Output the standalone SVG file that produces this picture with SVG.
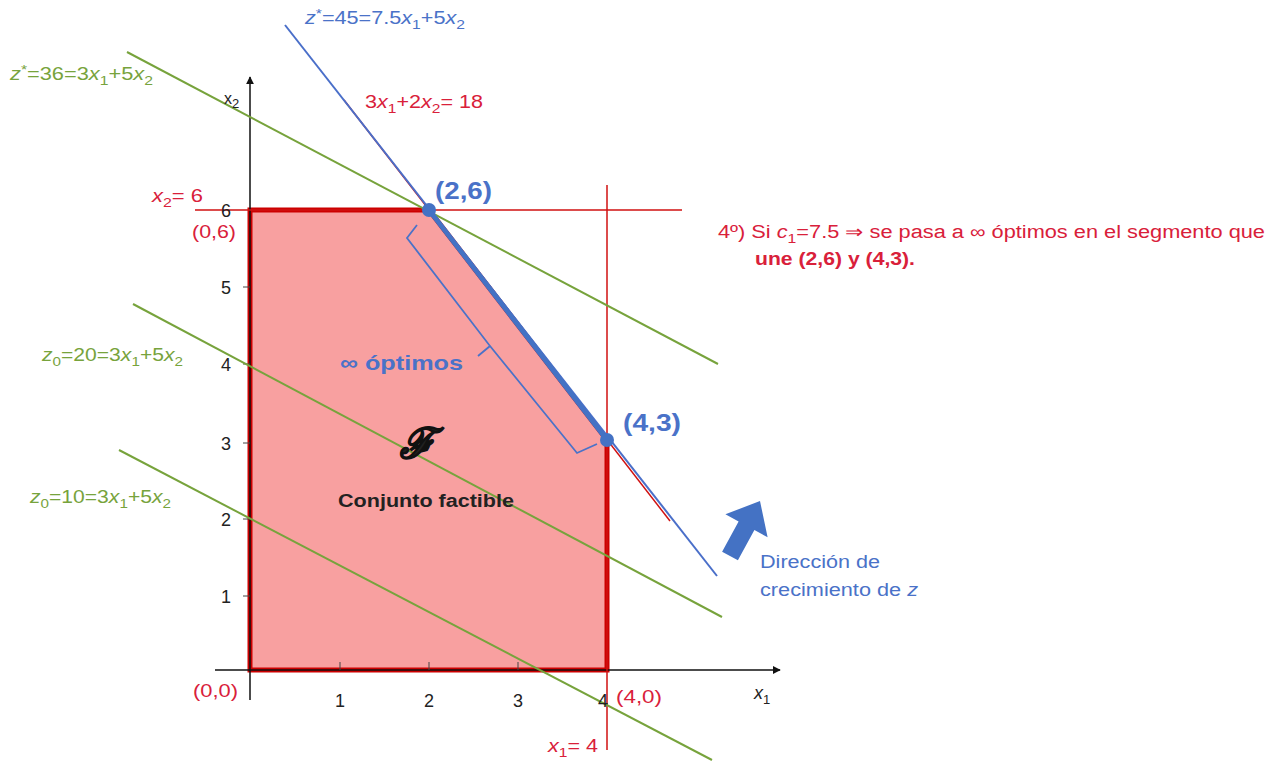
<svg xmlns="http://www.w3.org/2000/svg" width="1282" height="764" viewBox="0 0 1282 764">
<defs>
<style>
text{font-family:"Liberation Sans",Arial,sans-serif;font-size:18px}
.red{fill:#d9203a}
.grn{fill:#77a33c}
.blu{fill:#4a72c8}
.blk{fill:#222}
.b{font-weight:bold}
.i{font-style:italic}
.s{font-size:13px}
.gl{stroke:#77a33c;stroke-width:2;fill:none}
.rl{stroke:#d01010;stroke-width:1.5;fill:none}
.ax{stroke:#111;stroke-width:1.5;fill:none}
.tk{stroke:#444;stroke-width:1}
</style>
<marker id="ah" viewBox="0 0 10 10" refX="9" refY="5" markerWidth="8" markerHeight="8" orient="auto" markerUnits="userSpaceOnUse"><path d="M0,0 L10,5 L0,10 z" fill="#111"/></marker>
</defs>
<rect width="1282" height="764" fill="#fff"/>
<g id="feasible">
<polygon points="250,670 250,210 429,210 607,440 607,670" fill="#f8a0a0" stroke="#cc0000" stroke-width="5"/>
</g>
<g id="connectors">
<line class="ax" x1="215" y1="670" x2="780" y2="670" marker-end="url(#ah)"/>
<line class="ax" x1="250" y1="700" x2="250" y2="77" marker-end="url(#ah)"/>
<g class="tk">
<line x1="340" y1="662" x2="340" y2="670"/><line x1="429" y1="662" x2="429" y2="670"/><line x1="518" y1="662" x2="518" y2="670"/>
<line x1="243" y1="287" x2="250" y2="287"/><line x1="243" y1="364" x2="250" y2="364"/><line x1="243" y1="443" x2="250" y2="443"/><line x1="243" y1="519" x2="250" y2="519"/><line x1="243" y1="596" x2="250" y2="596"/>
</g>
<line class="rl" x1="195" y1="210" x2="682" y2="210"/>
<line class="rl" x1="607" y1="185" x2="607" y2="750"/>
<line class="rl" x1="344" y1="100" x2="670" y2="521"/>
<line x1="285" y1="25" x2="717" y2="576" stroke="#4a6fc9" stroke-width="2"/>
<line class="gl" x1="127" y1="52" x2="718" y2="364"/>
<line class="gl" x1="133" y1="304" x2="722" y2="617"/>
<line class="gl" x1="119" y1="450" x2="712" y2="760"/>
<line x1="429" y1="210" x2="607" y2="440" stroke="#4472c4" stroke-width="5"/>
<circle cx="429" cy="210" r="7" fill="#4472c4"/>
<circle cx="607" cy="440" r="7" fill="#4472c4"/>
<path d="M417,225 L407,238 L490,346 L478,356 M490,346 L577,453 L597,444" fill="none" stroke="#4a72c8" stroke-width="1.8"/>
<polygon points="737.9,560.3 722.1,551.7 738.6,521.5 725.4,514.3 760,501 767.6,537.3 754.4,530.1" fill="#4472c4"/>
</g>
<g id="labels">
<text class="blu" x="305" y="24" textLength="160" lengthAdjust="spacingAndGlyphs"><tspan class="i">z</tspan><tspan class="s" dy="-6">*</tspan><tspan dy="6">=45=7.5</tspan><tspan class="i">x</tspan><tspan class="s" dy="5">1</tspan><tspan dy="-5">+5</tspan><tspan class="i">x</tspan><tspan class="s" dy="5">2</tspan></text>
<text class="grn" x="10" y="80" textLength="143" lengthAdjust="spacingAndGlyphs"><tspan class="i">z</tspan><tspan class="s" dy="-6">*</tspan><tspan dy="6">=36=3</tspan><tspan class="i">x</tspan><tspan class="s" dy="5">1</tspan><tspan dy="-5">+5</tspan><tspan class="i">x</tspan><tspan class="s" dy="5">2</tspan></text>
<text class="red" x="365" y="108" textLength="118" lengthAdjust="spacingAndGlyphs"><tspan>3</tspan><tspan class="i">x</tspan><tspan class="s" dy="5">1</tspan><tspan dy="-5">+2</tspan><tspan class="i">x</tspan><tspan class="s" dy="5">2</tspan><tspan dy="-5">= 18</tspan></text>
<text class="blk" x="224" y="104" style="font-size:16px">x<tspan class="s" dy="4">2</tspan></text>
<text class="red" x="152" y="202" textLength="51" lengthAdjust="spacingAndGlyphs"><tspan class="i">x</tspan><tspan class="s" dy="5">2</tspan><tspan dy="-5">= 6</tspan></text>
<text class="blk" x="221" y="217">6</text>
<text class="red" x="192" y="238" textLength="44" lengthAdjust="spacingAndGlyphs">(0,6)</text>
<text class="blk" x="221" y="294">5</text>
<text class="blk" x="221" y="371">4</text>
<text class="blk" x="221" y="450">3</text>
<text class="blk" x="221" y="526">2</text>
<text class="blk" x="221" y="603">1</text>
<text class="grn" x="42" y="361" textLength="141" lengthAdjust="spacingAndGlyphs"><tspan class="i">z</tspan><tspan class="s" dy="5">0</tspan><tspan dy="-5">=20=3</tspan><tspan class="i">x</tspan><tspan class="s" dy="5">1</tspan><tspan dy="-5">+5</tspan><tspan class="i">x</tspan><tspan class="s" dy="5">2</tspan></text>
<text class="grn" x="30" y="503" textLength="141" lengthAdjust="spacingAndGlyphs"><tspan class="i">z</tspan><tspan class="s" dy="5">0</tspan><tspan dy="-5">=10=3</tspan><tspan class="i">x</tspan><tspan class="s" dy="5">1</tspan><tspan dy="-5">+5</tspan><tspan class="i">x</tspan><tspan class="s" dy="5">2</tspan></text>
<text class="red" x="193" y="697" textLength="45" lengthAdjust="spacingAndGlyphs">(0,0)</text>
<text class="blk" x="335" y="707">1</text>
<text class="blk" x="424" y="707">2</text>
<text class="blk" x="513" y="707">3</text>
<text class="blk" x="598" y="707">4</text>
<text class="red" x="616" y="703" textLength="46" lengthAdjust="spacingAndGlyphs">(4,0)</text>
<text class="blk" x="754" y="699"><tspan class="i">x</tspan><tspan class="s" dy="5">1</tspan></text>
<text class="red" x="548" y="752" textLength="50" lengthAdjust="spacingAndGlyphs"><tspan class="i">x</tspan><tspan class="s" dy="5">1</tspan><tspan dy="-5">= 4</tspan></text>
<text class="blu b" x="435" y="199" style="font-size:23px" textLength="57" lengthAdjust="spacingAndGlyphs">(2,6)</text>
<text class="blu b" x="623" y="431" style="font-size:23px" textLength="58" lengthAdjust="spacingAndGlyphs">(4,3)</text>
<text class="blu b" x="340" y="370" style="font-size:21px" textLength="123" lengthAdjust="spacingAndGlyphs">∞ óptimos</text>
<text class="blk" x="400" y="458" style="font-family:'DejaVu Serif',serif;font-size:42px;font-weight:bold;font-style:italic;stroke:#111;stroke-width:1.2">ℱ</text>
<text class="blk b" x="338" y="507" textLength="176" lengthAdjust="spacingAndGlyphs">Conjunto factible</text>
<text class="blu" x="760" y="568" textLength="120" lengthAdjust="spacingAndGlyphs">Dirección de</text>
<text class="blu" x="760" y="596" textLength="158" lengthAdjust="spacingAndGlyphs">crecimiento de <tspan class="i">z</tspan></text>
<text class="red" x="718" y="238" textLength="547" lengthAdjust="spacingAndGlyphs">4º) Si <tspan class="i">c</tspan><tspan class="s" dy="5">1</tspan><tspan dy="-5">=7.5  ⇒ se pasa a ∞ óptimos en el segmento que</tspan></text>
<text class="red b" x="755" y="265" textLength="160" lengthAdjust="spacingAndGlyphs">une (2,6) y (4,3).</text>
</g>
</svg>
